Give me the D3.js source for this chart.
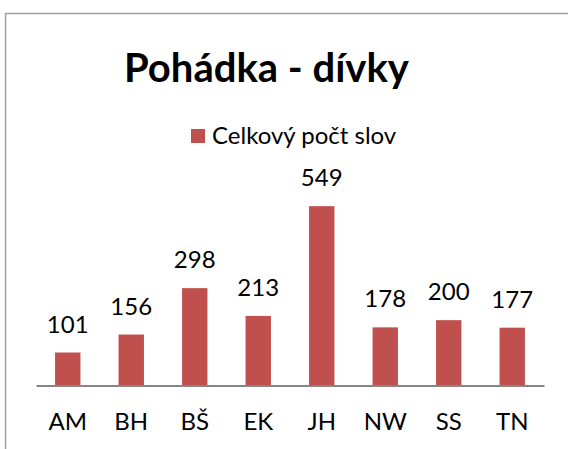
<!DOCTYPE html>
<html><head><meta charset="utf-8">
<script src="https://cdn.jsdelivr.net/npm/d3@7"></script>
<style>body{margin:0;background:#fff}svg{display:block}text{font-family:Lato,sans-serif;fill:#000}</style>
</head><body>
<script>
const categories = ["AM","BH","BŠ","EK","JH","NW","SS","TN"];
const values = [101,156,298,213,549,178,200,177];
const seriesName = "Celkový počt slov";
const title = "Pohádka - dívky";

const W = 568, H = 449;
const svg = d3.select("body").append("svg").attr("width", W).attr("height", H);

svg.append("rect").attr("x", 5.5).attr("y", 13.5).attr("width", W + 10).attr("height", H + 10)
  .attr("fill", "#fff").attr("stroke", "#a0a0a0").attr("stroke-width", 1.5);

const x = d3.scaleBand().domain(categories).range([36, 544]).paddingInner(0.6).paddingOuter(0.3);
const y = d3.scaleLinear().domain([0, 600]).range([385.5, 189.5]);

svg.append("text").attr("x", 266.5).attr("y", 82).attr("text-anchor", "middle")
  .style("font-weight", "bold").style("font-size", "40px").text(title);

svg.append("rect").attr("x", 191).attr("y", 129).attr("width", 14).attr("height", 14).attr("fill", "#C0504D");
svg.append("text").attr("x", 212).attr("y", 144).style("font-size", "24px").text(seriesName);

svg.selectAll("rect.bar").data(values).enter().append("rect").attr("class", "bar")
  .attr("x", (d, i) => x(categories[i])).attr("width", x.bandwidth())
  .attr("y", d => y(d)).attr("height", d => y(0) - y(d)).attr("fill", "#C0504D");

svg.selectAll("text.val").data(values).enter().append("text").attr("class", "val")
  .attr("x", (d, i) => x(categories[i]) + x.bandwidth() / 2).attr("y", d => y(d) - 20)
  .attr("text-anchor", "middle").style("font-size", "24px").text(d => d);

const axis = svg.append("g").attr("transform", `translate(0,${y(0)})`)
  .call(d3.axisBottom(x).tickSize(0).tickPadding(0));
axis.select(".domain").attr("stroke", "#868686").attr("stroke-width", 2);
axis.selectAll("text").attr("dy", null).attr("y", 44).style("font-size", "24px")
  .style("font-family", "Lato,sans-serif").attr("fill", "#000");
</script>
</body></html>
